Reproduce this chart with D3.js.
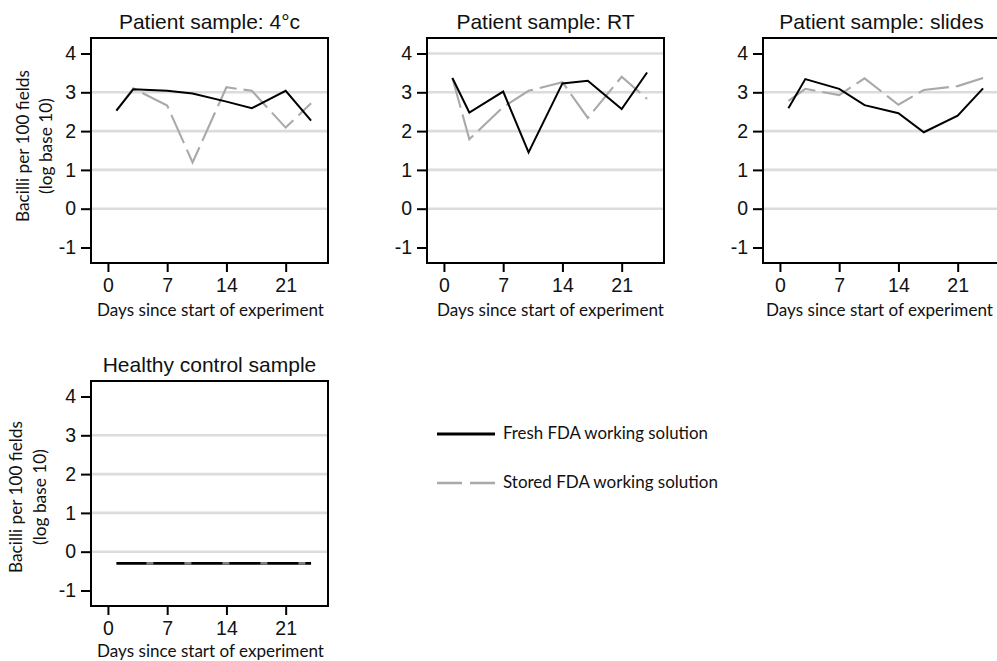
<!DOCTYPE html>
<html>
<head>
<meta charset="utf-8">
<script src="https://cdn.jsdelivr.net/npm/d3@7"></script>
<style>
  body { margin: 0; background: #ffffff; }
  svg { display: block; }
</style>
</head>
<body>
<svg id="chart" width="997" height="661"></svg>
<script>
// ---- data ----
const days = [1, 3, 7, 10, 14, 17, 21, 24];
const panelTitles = ["Patient sample: 4°c", "Patient sample: RT", "Patient sample: slides", "Healthy control sample"];
const seriesNames = ["Fresh FDA working solution", "Stored FDA working solution"];

// log10 bacilli per 100 fields
const freshFourC    = [2.53, 3.08, 3.04, 2.97, 2.76, 2.59, 3.04, 2.27];
const storedFourC   = [2.53, 3.10, 2.66, 1.19, 3.13, 3.04, 2.09, 2.72];
const freshRT       = [3.37, 2.48, 3.02, 1.45, 3.23, 3.30, 2.57, 3.51];
const storedRT      = [3.37, 1.79, 2.62, 3.04, 3.26, 2.34, 3.40, 2.83];
const freshSlides   = [2.59, 3.34, 3.09, 2.67, 2.46, 1.97, 2.40, 3.10];
const storedSlides  = [2.78, 3.09, 2.93, 3.36, 2.68, 3.06, 3.16, 3.37];
const freshControl  = [-0.3, -0.3, -0.3, -0.3, -0.3, -0.3, -0.3, -0.3];
const storedControl = [-0.3, -0.3, -0.3, -0.3, -0.3, -0.3, -0.3, -0.3];

const xTicks = [0, 7, 14, 21];
const yTicks = [-1, 0, 1, 2, 3, 4];
const xLabel = "Days since start of experiment";
const yLabelLines = ["Bacilli per 100 fields", "(log base 10)"];

// ---- layout ----
const xDomain = [-2, 26];
const yDomain = [-1.4, 4.4];
const PW = 237, PH = 225;

const panels = [
  { title: panelTitles[0], fresh: freshFourC,   stored: storedFourC,   x0: 91,  y0: 38,  grid: [0, 1, 2, 3],    yTitle: { a: 29, b: 52, cy: 146 }, xTitleDx: 1, xTitleDy: 53 },
  { title: panelTitles[1], fresh: freshRT,      stored: storedRT,      x0: 427, y0: 38,  grid: [0, 1, 2, 3, 4], yTitle: null, xTitleDx: 5, xTitleDy: 53 },
  { title: panelTitles[2], fresh: freshSlides,  stored: storedSlides,  x0: 763, y0: 38,  grid: [0, 1, 2, 3],    yTitle: null, xTitleDx: -2, xTitleDy: 53 },
  { title: panelTitles[3], fresh: freshControl, stored: storedControl, x0: 91,  y0: 381, grid: [0, 1, 2, 3],    yTitle: { a: 22, b: 46, cy: 497 }, xTitleDx: 1, xTitleDy: 51, overlap: true }
];

const SANS = "'Liberation Sans', Arial, Helvetica, sans-serif";
const LABEL = "Lato, 'Open Sans', sans-serif";
const GREY = "#a9a9a9";
const GRID = "#dcdcdc";

const svg = d3.select("#chart");

// shrink/grow a text node so its rendered width equals the target
function fitText(sel, target) {
  const len = sel.node().getComputedTextLength();
  const fs = parseFloat(sel.attr("font-size"));
  if (len > 0) sel.attr("font-size", (fs * target / len).toFixed(2));
}

panels.forEach(p => {
  const x = d3.scaleLinear().domain(xDomain).range([p.x0, p.x0 + PW]);
  const y = d3.scaleLinear().domain(yDomain).range([p.y0 + PH, p.y0]);
  const g = svg.append("g");

  // horizontal gridlines
  g.selectAll("line.grid").data(p.grid).join("line")
    .attr("class", "grid")
    .attr("x1", p.x0).attr("x2", p.x0 + PW)
    .attr("y1", d => y(d)).attr("y2", d => y(d))
    .attr("stroke", GRID).attr("stroke-width", 2.6);

  const line = d3.line().x((d, i) => x(days[i])).y(d => y(d));

  if (p.overlap) {
    // both series coincide: fresh underneath, stored peeking through in short gaps
    g.append("path").datum(p.fresh)
      .attr("d", line).attr("fill", "none")
      .attr("stroke", "#000").attr("stroke-width", 2.8);
    g.append("path").datum(p.stored)
      .attr("d", line).attr("fill", "none")
      .attr("stroke", "#7e7e7e").attr("stroke-width", 2.8)
      .attr("stroke-dasharray", "7,31").attr("stroke-dashoffset", 8);
  } else {
    g.append("path").datum(p.stored)
      .attr("d", line).attr("fill", "none")
      .attr("stroke", GREY).attr("stroke-width", 2.1)
      .attr("stroke-dasharray", "31,7");
    g.append("path").datum(p.fresh)
      .attr("d", line).attr("fill", "none")
      .attr("stroke", "#000").attr("stroke-width", 2)
      .attr("stroke-linejoin", "miter");
  }

  // frame
  g.append("rect")
    .attr("x", p.x0).attr("y", p.y0).attr("width", PW).attr("height", PH)
    .attr("fill", "none").attr("stroke", "#000").attr("stroke-width", 2);

  // axes
  const ax = g.append("g").attr("transform", `translate(0,${p.y0 + PH})`)
    .call(d3.axisBottom(x).tickValues(xTicks).tickSize(9).tickPadding(6).tickFormat(d => String(d)));
  const ay = g.append("g").attr("transform", `translate(${p.x0},0)`)
    .call(d3.axisLeft(y).tickValues(yTicks).tickSize(10).tickPadding(5).tickFormat(d => String(d)));
  [ax, ay].forEach(a => {
    a.select(".domain").remove();
    a.selectAll(".tick line").attr("stroke", "#000").attr("stroke-width", 2);
    a.selectAll(".tick text").attr("font-family", SANS).attr("font-size", 19.5).attr("fill", "#111");
    a.attr("font-size", null).attr("font-family", null);
  });

  // panel title
  g.append("text")
    .attr("x", p.x0 + PW / 2).attr("y", p.y0 - 9.5)
    .attr("text-anchor", "middle")
    .attr("font-family", SANS).attr("font-size", 21).attr("fill", "#111")
    .text(p.title);

  // x axis title
  const xt = g.append("text")
    .attr("x", p.x0 + PW / 2 + p.xTitleDx).attr("y", p.y0 + PH + p.xTitleDy)
    .attr("text-anchor", "middle")
    .attr("font-family", LABEL).attr("font-size", 15).attr("fill", "#111")
    .text(xLabel);
  fitText(xt, 227);

  // y axis title (two lines, rotated)
  if (p.yTitle) {
    const t1 = g.append("text")
      .attr("transform", `translate(${p.yTitle.a},${p.yTitle.cy}) rotate(-90)`)
      .attr("text-anchor", "middle")
      .attr("font-family", LABEL).attr("font-size", 15).attr("fill", "#111")
      .text(yLabelLines[0]);
    fitText(t1, 152);
    const t2 = g.append("text")
      .attr("transform", `translate(${p.yTitle.b},${p.yTitle.cy}) rotate(-90)`)
      .attr("text-anchor", "middle")
      .attr("font-family", LABEL).attr("font-size", 15).attr("fill", "#111")
      .text(yLabelLines[1]);
    fitText(t2, 96);
  }
});

// ---- legend ----
const legend = svg.append("g");
const legendItems = [
  { name: seriesNames[0], y: 434, stroke: "#000", dash: null, width: 205 },
  { name: seriesNames[1], y: 483, stroke: GREY, dash: "25,8", width: 215 }
];
legendItems.forEach(it => {
  legend.append("line")
    .attr("x1", 437).attr("x2", 495).attr("y1", it.y).attr("y2", it.y)
    .attr("stroke", it.stroke).attr("stroke-width", it.dash ? 2.6 : 3)
    .attr("stroke-dasharray", it.dash);
  const t = legend.append("text")
    .attr("x", 503).attr("y", it.y + 5)
    .attr("font-family", LABEL).attr("font-size", 15).attr("fill", "#111")
    .text(it.name);
  fitText(t, it.width);
});
</script>
</body>
</html>
